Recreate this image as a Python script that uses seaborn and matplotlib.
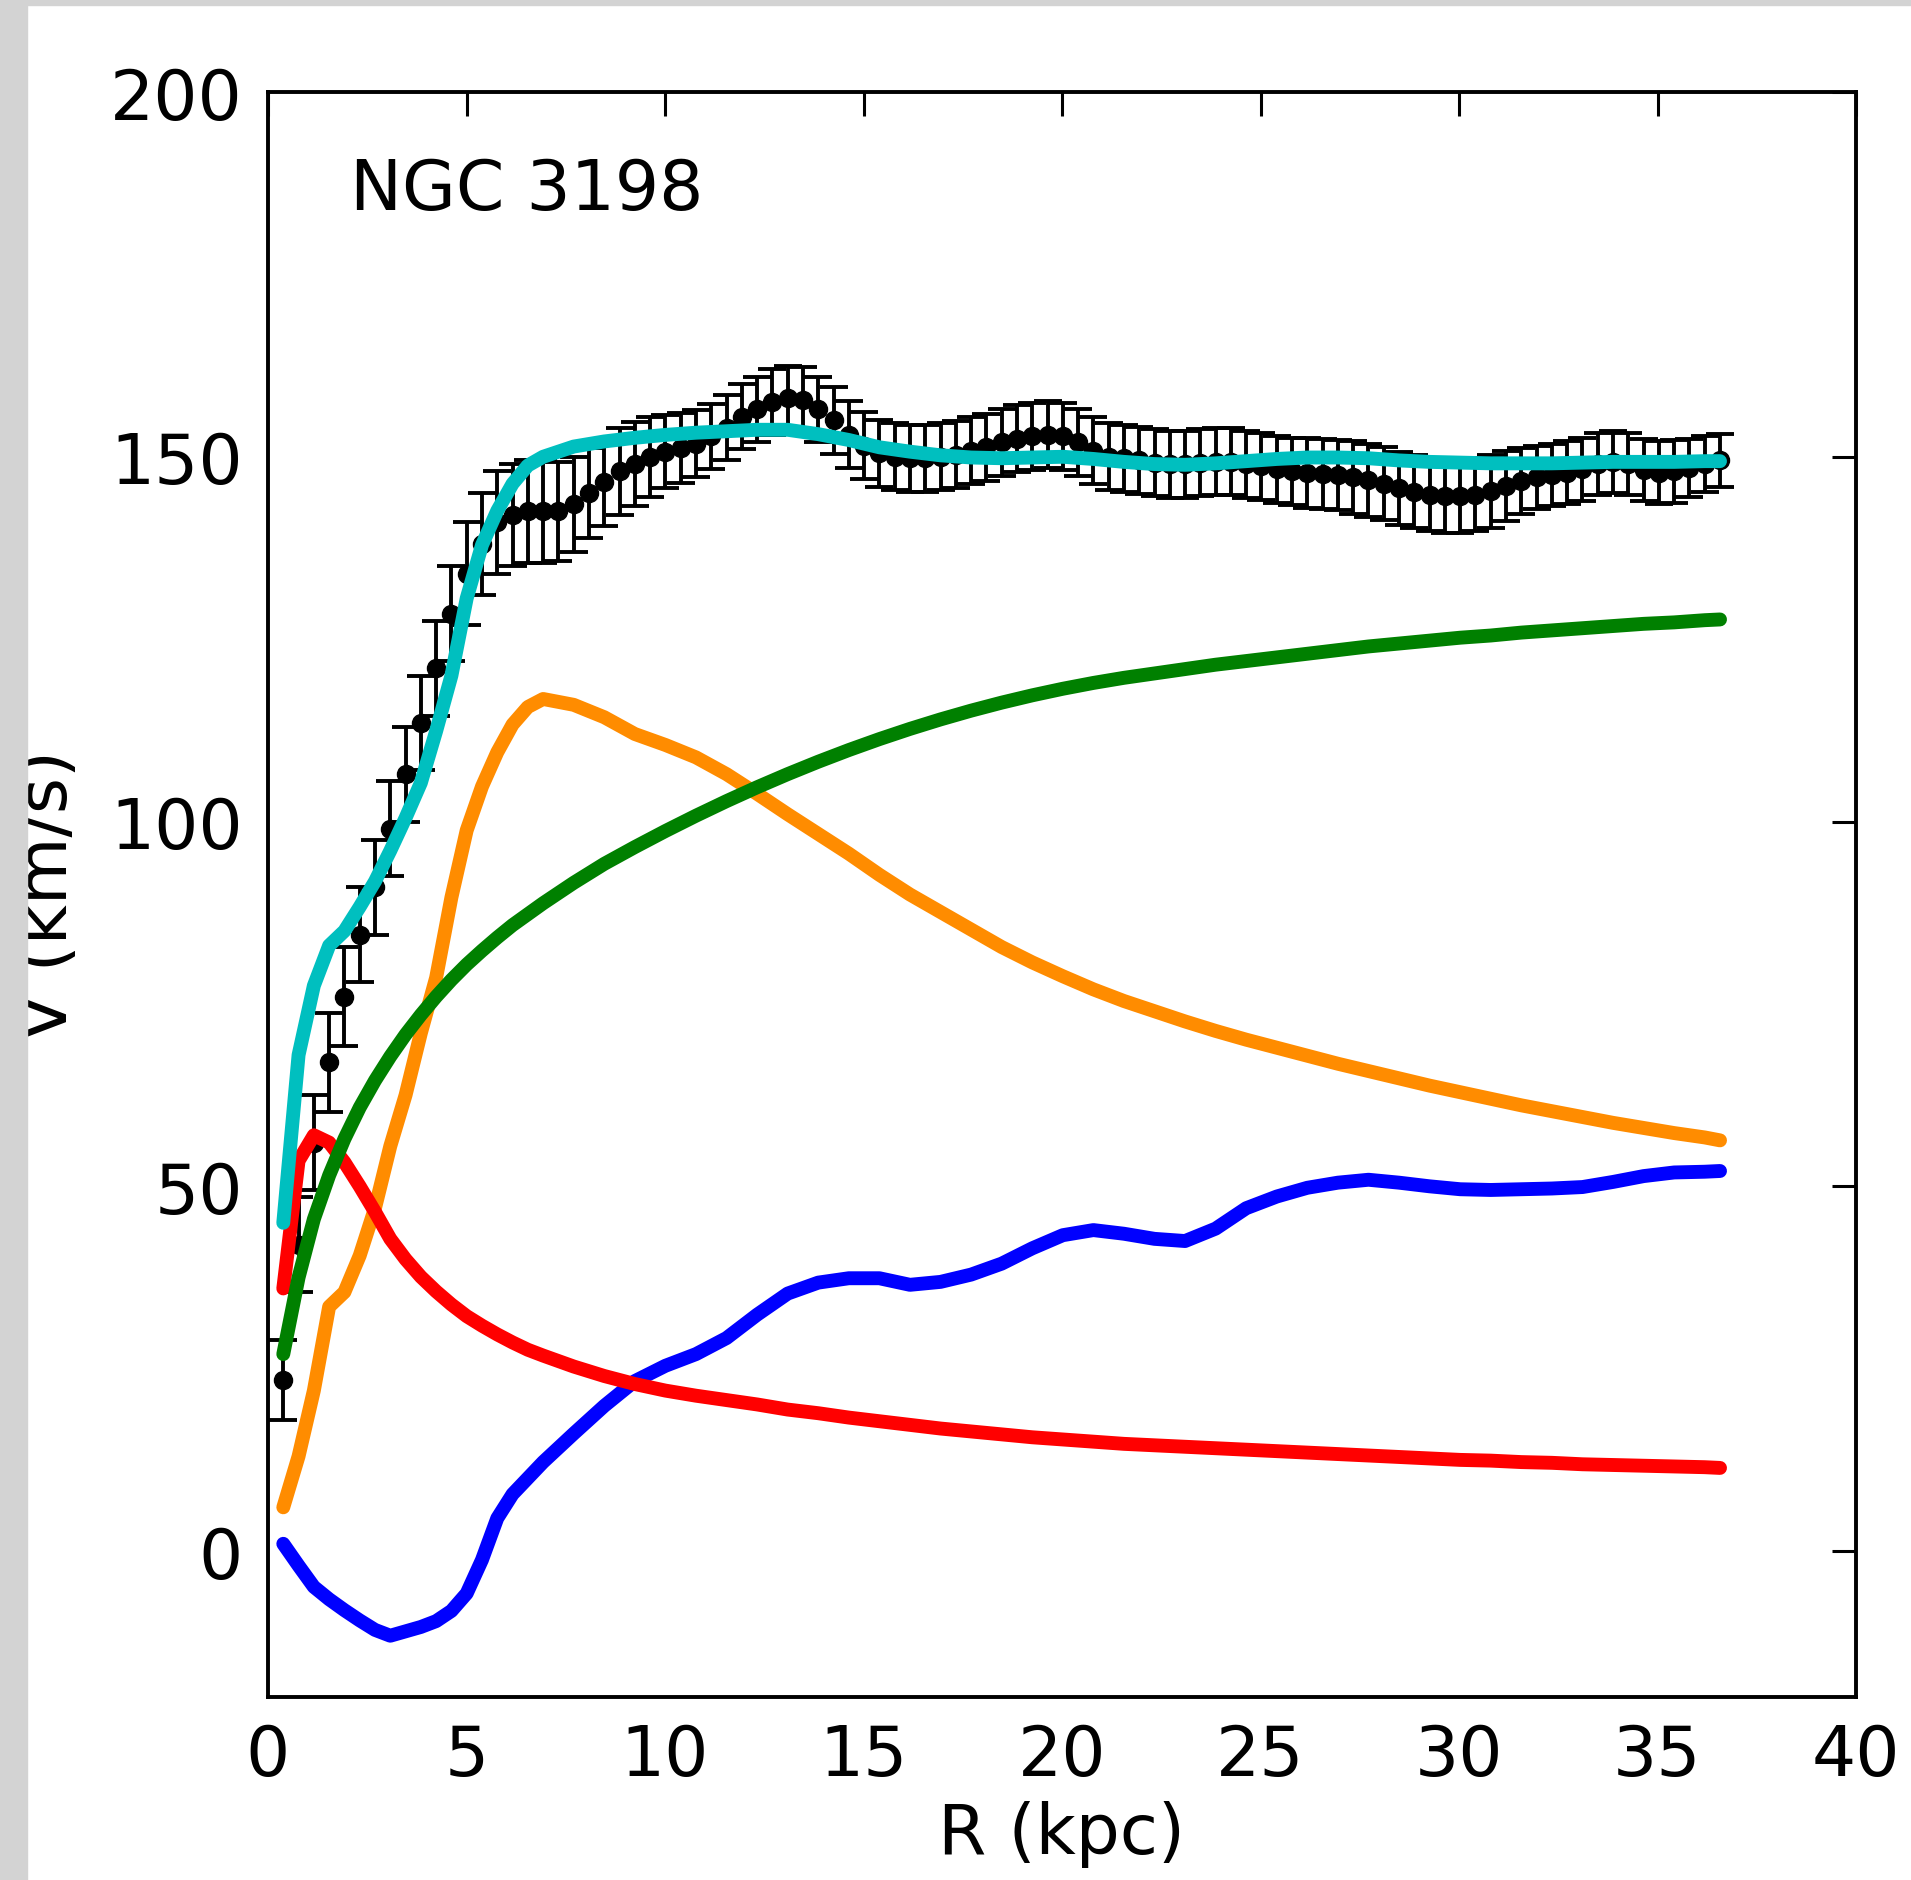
import numpy as np
import pandas as pd
import matplotlib
matplotlib.use("Agg")
import matplotlib.pyplot as plt
from matplotlib.patches import Rectangle
import seaborn as sns

# ---- observed rotation curve of NGC 3198 ----
r_obs = [0.385, 0.77, 1.155, 1.54, 1.925, 2.31, 2.695, 3.08, 3.465, 3.85,
         4.235, 4.62, 5.005, 5.39, 5.775, 6.16, 6.545, 6.93, 7.315, 7.70,
         8.085, 8.47, 8.855, 9.24, 9.625, 10.01, 10.395, 10.78, 11.165, 11.55,
         11.935, 12.32, 12.705, 13.09, 13.475, 13.86, 14.245, 14.63, 15.015, 15.40,
         15.785, 16.17, 16.555, 16.94, 17.325, 17.71, 18.095, 18.48, 18.865, 19.25,
         19.635, 20.02, 20.405, 20.79, 21.175, 21.56, 21.945, 22.33, 22.715, 23.10,
         23.485, 23.87, 24.255, 24.64, 25.025, 25.41, 25.795, 26.18, 26.565, 26.95,
         27.335, 27.72, 28.105, 28.49, 28.875, 29.26, 29.645, 30.03, 30.415, 30.80,
         31.185, 31.57, 31.955, 32.34, 32.725, 33.11, 33.495, 33.88, 34.265, 34.65,
         35.035, 35.42, 35.805, 36.19, 36.575]

v_obs = [23.5, 42, 56, 67, 76, 84.5, 91, 99, 106.5, 113.5,
         121, 128.5, 134, 138, 141, 142, 142.5, 142.5, 142.5, 143.5,
         145, 146.5, 148, 149, 150, 150.7, 151.2, 151.8, 152.8, 154,
         155.5, 156.5, 157.5, 158, 157.8, 156.5, 155, 153, 151.5, 150.5,
         150, 149.8, 149.8, 150, 150.3, 150.8, 151.3, 152, 152.5, 152.8,
         153, 152.8, 152, 150.8, 150, 149.8, 149.5, 149.2, 149, 149,
         149.2, 149.3, 149.3, 149, 148.7, 148.3, 148, 147.8, 147.6, 147.5,
         147.2, 146.8, 146.3, 145.7, 145.2, 144.8, 144.6, 144.6, 144.8, 145.3,
         146, 146.7, 147.2, 147.5, 147.8, 148.3, 149, 149.3, 149, 148.2,
         147.8, 148, 148.5, 149, 149.5]

err_obs = [5.5, 6.5, 6.5, 6.8, 6.8, 6.5, 6.5, 6.5, 6.5, 6.5,
           6.5, 6.5, 7.0, 7.0, 7.0, 7.0, 7.0, 7.0, 6.8, 6.5,
           6.2, 6.0, 6.0, 5.8, 5.5, 5.0, 4.8, 4.6, 4.5, 4.5,
           4.5, 4.5, 4.5, 4.5, 4.5, 4.5, 4.6, 4.6, 4.6, 4.6,
           4.6, 4.6, 4.6, 4.6, 4.6, 4.6, 4.6, 4.6, 4.6, 4.6,
           4.6, 4.6, 4.6, 4.6, 4.6, 4.6, 4.6, 4.6, 4.6, 4.6,
           4.6, 4.6, 4.6, 4.6, 4.6, 4.6, 4.6, 4.8, 4.8, 4.8,
           5.0, 5.0, 5.0, 5.0, 5.0, 5.0, 5.0, 5.0, 5.0, 5.0,
           4.8, 4.5, 4.3, 4.3, 4.3, 4.3, 4.3, 4.3, 4.3, 4.3,
           4.3, 4.3, 4.0, 3.8, 3.6]

# ---- mass model components ----
r_mod = [0.385, 0.77, 1.155, 1.54, 1.925, 2.31, 2.695, 3.08, 3.465, 3.85,
         4.235, 4.62, 5.005, 5.39, 5.775, 6.16, 6.545, 6.93, 7.70, 8.47,
         9.24, 10.01, 10.78, 11.55, 12.32, 13.09, 13.86, 14.63, 15.40, 16.17,
         16.94, 17.71, 18.48, 19.25, 20.02, 20.79, 21.56, 22.33, 23.10, 23.87,
         24.64, 25.41, 26.18, 26.95, 27.72, 28.49, 29.26, 30.03, 30.80, 31.57,
         32.34, 33.11, 33.88, 34.65, 35.42, 36.19, 36.575]

v_gas = [1, -2, -4.9, -6.6, -8.1, -9.5, -10.8, -11.6, -11, -10.4,
         -9.6, -8.2, -5.8, -1.2, 4.5, 7.8, 10, 12.2, 16.1, 19.9,
         23.3, 25.4, 27, 29.2, 32.4, 35.3, 36.8, 37.4, 37.4, 36.5,
         36.9, 37.9, 39.4, 41.5, 43.3, 44, 43.5, 42.8, 42.5, 44.2,
         47, 48.6, 49.8, 50.5, 50.9, 50.5, 50, 49.6, 49.5, 49.6,
         49.7, 49.9, 50.6, 51.4, 51.9, 52, 52.1]

v_disk = [6, 13, 22, 33.5, 35.5, 40.5, 47, 55.5, 62.5, 71,
          78.6, 89.6, 98.8, 104.8, 109.5, 113.3, 115.7, 116.8, 116, 114.3,
          112, 110.5, 108.8, 106.5, 103.8, 101, 98.3, 95.6, 92.7, 90,
          87.6, 85.2, 82.8, 80.7, 78.8, 77, 75.4, 74, 72.6, 71.3,
          70.1, 69, 67.9, 66.8, 65.8, 64.8, 63.8, 62.9, 62, 61.1,
          60.3, 59.5, 58.7, 58, 57.3, 56.7, 56.3]

v_bulge = [36, 53.5, 57, 56, 53.3, 50, 46.5, 42.8, 40, 37.6,
           35.6, 33.8, 32.2, 30.9, 29.7, 28.6, 27.6, 26.8, 25.3, 24,
           22.9, 22, 21.3, 20.7, 20.1, 19.4, 18.9, 18.3, 17.8, 17.3,
           16.8, 16.4, 16, 15.6, 15.3, 15, 14.7, 14.5, 14.3, 14.1,
           13.9, 13.7, 13.5, 13.3, 13.1, 12.9, 12.7, 12.5, 12.4, 12.2,
           12.1, 11.9, 11.8, 11.7, 11.6, 11.5, 11.4]

v_halo = [27, 37.5, 45.5, 51.5, 56.5, 60.8, 64.5, 67.8, 70.8, 73.5,
          76, 78.3, 80.4, 82.3, 84.1, 85.8, 87.3, 88.8, 91.6, 94.2,
          96.5, 98.7, 100.8, 102.8, 104.7, 106.5, 108.2, 109.8, 111.3, 112.7,
          114, 115.2, 116.3, 117.3, 118.2, 119, 119.7, 120.3, 120.9, 121.5,
          122, 122.5, 123, 123.5, 124, 124.4, 124.8, 125.2, 125.5, 125.9,
          126.2, 126.5, 126.8, 127.1, 127.3, 127.6, 127.7]

v_total = [45, 68, 77.5, 83, 85, 88.3, 91.8, 96, 100.5, 105.3,
           112.4, 120, 130.6, 137.9, 142.6, 146.3, 148.8, 150, 151.4, 152.1,
           152.6, 153, 153.3, 153.5, 153.7, 153.7, 153.1, 152.3, 151.3, 150.7,
           150.2, 149.9, 149.8, 149.9, 150, 149.7, 149.3, 149, 148.9, 149.1,
           149.4, 149.7, 149.9, 149.9, 149.8, 149.5, 149.3, 149.2, 149.1, 149.1,
           149.1, 149.2, 149.3, 149.3, 149.3, 149.4, 149.4]

x_ticks = [0, 5, 10, 15, 20, 25, 30, 35, 40]
y_ticks = [0, 50, 100, 150, 200]

obs = pd.DataFrame({"R": r_obs, "V": v_obs, "err": err_obs})
model = pd.DataFrame({"R": r_mod, "gas": v_gas, "disk": v_disk,
                      "bulge": v_bulge, "halo": v_halo, "total": v_total})

sns.set_style("white")
plt.rcParams["font.family"] = ["DejaVu Sans"]
plt.rcParams.update({
    "xtick.direction": "in", "ytick.direction": "in",
    "xtick.top": True, "ytick.right": True,
    "text.color": "black", "axes.labelcolor": "black",
    "xtick.color": "black", "ytick.color": "black",
})

FS = 50

fig = plt.figure(figsize=(19.11, 18.81), dpi=100)
fig.patch.set_facecolor("white")
# light grey frame strips along the top and left edges
fig.patches.append(Rectangle((0, 0), 27 / 1911, 1, transform=fig.transFigure,
                             color="#d3d3d3", zorder=0))
fig.patches.append(Rectangle((0, 1 - 6 / 1881), 1, 6 / 1881, transform=fig.transFigure,
                             color="#d3d3d3", zorder=0))

ax = fig.add_axes([268 / 1911, 1 - 1698 / 1881, (1856 - 268) / 1911, (1698 - 93) / 1881])
ax.set_facecolor("white")

# observed points with error bars
ax.errorbar(obs["R"], obs["V"], yerr=obs["err"], fmt="o", color="black",
            ms=13, elinewidth=2.8, capsize=10, capthick=2.8, zorder=2)

lw = 10
components = [("gas", "#0000ff"), ("disk", "#ff8c00"), ("bulge", "#ff0000"),
              ("halo", "#008000"), ("total", "#00bfbf")]
for i, (col, colr) in enumerate(components):
    sns.lineplot(data=model, x="R", y=col, ax=ax, color=colr, linewidth=lw,
                 sort=False, estimator=None, zorder=3 + i)

ax.set_xlim(0, 40)
ax.set_ylim(-20, 200)
ax.set_xticks(x_ticks)
ax.set_yticks(y_ticks)
ax.tick_params(axis="both", which="major", direction="in", length=17, width=2.2,
               labelsize=FS, pad=18, colors="black", top=True, right=True)
for sp in ax.spines.values():
    sp.set_visible(True)
    sp.set_color("black")
    sp.set_linewidth(2.8)

ax.set_xlabel("R (kpc)", fontsize=FS, color="black")
ax.set_ylabel("V (km/s)", fontsize=FS, color="black")
ax.xaxis.set_label_coords(0.5, -0.064)
ax.yaxis.set_label_coords(-0.118, 0.5)

ax.text(0.0516, 0.927, "NGC 3198", transform=ax.transAxes, fontsize=FS,
        ha="left", va="baseline", color="black")

fig.savefig("out.png", dpi=100)
